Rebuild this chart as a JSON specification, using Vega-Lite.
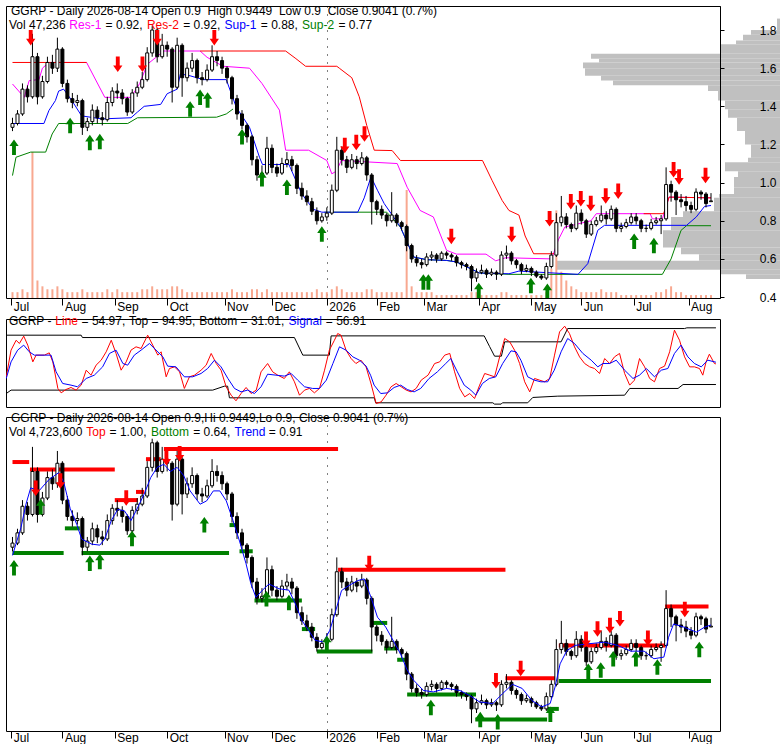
{
"$schema":"https://vega.github.io/schema/vega-lite/v6.json",
"padding":{"left":5,"top":5,"right":0,"bottom":0},
"background":"white",
"config":{
 "view":{"stroke":"black","strokeWidth":1},
 "axis":{"labelFont":"Liberation Sans","labelFontSize":12,"labelColor":"black","tickColor":"black","domainColor":"black","gridColor":"black","gridDash":[1,7],"gridWidth":1,"gridOpacity":1,"labelFlush":false,"labelOverlap":false},
 "legend":{"direction":"horizontal","orient":"none","labelFont":"Liberation Sans","labelFontSize":12,"labelColor":"black","symbolSize":0,"symbolStrokeWidth":0,"symbolOpacity":0,"labelOffset":-14,"columnPadding":3.3,"padding":0,"labelLimit":0,"titleFont":"Liberation Sans","titleFontSize":12,"titleFontWeight":"normal","titleColor":"black","titleOrient":"top","titleAnchor":"start","titlePadding":1,"titleLimit":1000,"titleBaseline":"top"}
},
"datasets":{
"px":[
{"i":2,"o":1.29,"h":1.34,"l":1.27,"c":1.31,"v":2},{"i":4,"o":1.31,"h":1.38,"l":1.30,"c":1.36,"v":2},{"i":6,"o":1.36,"h":1.52,"l":1.35,"c":1.49,"v":3},{"i":8,"o":1.49,"h":1.51,"l":1.42,"c":1.45,"v":2},{"i":10,"o":1.45,"h":1.78,"l":1.44,"c":1.66,"v":50},
{"i":12,"o":1.66,"h":1.68,"l":1.41,"c":1.45,"v":6},{"i":14,"o":1.45,"h":1.56,"l":1.44,"c":1.53,"v":4},{"i":16,"o":1.53,"h":1.66,"l":1.52,"c":1.63,"v":3},{"i":18,"o":1.63,"h":1.67,"l":1.57,"c":1.60,"v":3},{"i":20,"o":1.60,"h":1.76,"l":1.58,"c":1.70,"v":4},
{"i":22,"o":1.70,"h":1.71,"l":1.50,"c":1.52,"v":3},{"i":24,"o":1.52,"h":1.54,"l":1.42,"c":1.44,"v":2},{"i":26,"o":1.44,"h":1.47,"l":1.39,"c":1.42,"v":2},{"i":28,"o":1.42,"h":1.46,"l":1.40,"c":1.43,"v":2},{"i":30,"o":1.43,"h":1.44,"l":1.25,"c":1.29,"v":3},
{"i":32,"o":1.29,"h":1.34,"l":1.27,"c":1.32,"v":2},{"i":34,"o":1.32,"h":1.41,"l":1.30,"c":1.38,"v":2},{"i":36,"o":1.38,"h":1.40,"l":1.31,"c":1.34,"v":2},{"i":38,"o":1.34,"h":1.37,"l":1.30,"c":1.33,"v":2},{"i":40,"o":1.33,"h":1.45,"l":1.32,"c":1.42,"v":3},
{"i":42,"o":1.42,"h":1.50,"l":1.40,"c":1.48,"v":2},{"i":44,"o":1.48,"h":1.52,"l":1.44,"c":1.47,"v":3},{"i":46,"o":1.47,"h":1.49,"l":1.41,"c":1.44,"v":2},{"i":48,"o":1.44,"h":1.45,"l":1.35,"c":1.37,"v":2},{"i":50,"o":1.37,"h":1.49,"l":1.36,"c":1.47,"v":2},
{"i":52,"o":1.47,"h":1.53,"l":1.45,"c":1.50,"v":2},{"i":54,"o":1.50,"h":1.58,"l":1.49,"c":1.54,"v":3},{"i":56,"o":1.54,"h":1.71,"l":1.53,"c":1.68,"v":3},{"i":58,"o":1.68,"h":1.82,"l":1.66,"c":1.80,"v":4},{"i":60,"o":1.80,"h":1.81,"l":1.63,"c":1.66,"v":3},
{"i":62,"o":1.66,"h":1.78,"l":1.65,"c":1.72,"v":3},{"i":64,"o":1.72,"h":1.74,"l":1.66,"c":1.70,"v":3},{"i":66,"o":1.70,"h":1.71,"l":1.42,"c":1.50,"v":4},{"i":68,"o":1.50,"h":1.76,"l":1.49,"c":1.72,"v":4},{"i":70,"o":1.72,"h":1.73,"l":1.45,"c":1.55,"v":3},
{"i":72,"o":1.55,"h":1.63,"l":1.53,"c":1.60,"v":2},{"i":74,"o":1.60,"h":1.68,"l":1.58,"c":1.64,"v":2},{"i":76,"o":1.64,"h":1.65,"l":1.52,"c":1.55,"v":2},{"i":78,"o":1.55,"h":1.58,"l":1.51,"c":1.54,"v":2},{"i":80,"o":1.54,"h":1.62,"l":1.53,"c":1.59,"v":2},
{"i":82,"o":1.59,"h":1.72,"l":1.58,"c":1.66,"v":2},{"i":84,"o":1.66,"h":1.69,"l":1.61,"c":1.64,"v":2},{"i":86,"o":1.64,"h":1.66,"l":1.57,"c":1.60,"v":2},{"i":88,"o":1.60,"h":1.61,"l":1.52,"c":1.55,"v":2},{"i":90,"o":1.55,"h":1.56,"l":1.41,"c":1.44,"v":3},
{"i":92,"o":1.44,"h":1.46,"l":1.33,"c":1.36,"v":2},{"i":94,"o":1.36,"h":1.38,"l":1.28,"c":1.30,"v":2},{"i":96,"o":1.30,"h":1.31,"l":1.21,"c":1.24,"v":2},{"i":98,"o":1.24,"h":1.25,"l":1.09,"c":1.12,"v":3},{"i":100,"o":1.12,"h":1.14,"l":1.01,"c":1.04,"v":3},
{"i":102,"o":1.04,"h":1.09,"l":1.02,"c":1.05,"v":2},{"i":104,"o":1.05,"h":1.24,"l":1.04,"c":1.18,"v":3},{"i":106,"o":1.18,"h":1.20,"l":1.05,"c":1.08,"v":2},{"i":108,"o":1.08,"h":1.10,"l":1.03,"c":1.05,"v":2},{"i":110,"o":1.05,"h":1.13,"l":1.04,"c":1.10,"v":2},
{"i":112,"o":1.10,"h":1.16,"l":1.08,"c":1.12,"v":2},{"i":114,"o":1.12,"h":1.14,"l":1.06,"c":1.09,"v":2},{"i":116,"o":1.09,"h":1.10,"l":0.94,"c":0.97,"v":2},{"i":118,"o":0.97,"h":1.00,"l":0.91,"c":0.93,"v":2},{"i":120,"o":0.93,"h":0.96,"l":0.88,"c":0.90,"v":2},
{"i":122,"o":0.90,"h":0.92,"l":0.83,"c":0.85,"v":2},{"i":124,"o":0.85,"h":0.87,"l":0.78,"c":0.80,"v":3},{"i":126,"o":0.80,"h":0.84,"l":0.79,"c":0.82,"v":2},{"i":128,"o":0.82,"h":0.87,"l":0.80,"c":0.84,"v":2},{"i":130,"o":0.84,"h":0.99,"l":0.83,"c":0.96,"v":3},
{"i":132,"o":0.96,"h":1.24,"l":0.95,"c":1.17,"v":4},{"i":134,"o":1.17,"h":1.19,"l":1.09,"c":1.12,"v":3},{"i":136,"o":1.12,"h":1.14,"l":1.05,"c":1.08,"v":2},{"i":138,"o":1.08,"h":1.15,"l":1.07,"c":1.12,"v":2},{"i":140,"o":1.12,"h":1.14,"l":1.07,"c":1.10,"v":2},
{"i":142,"o":1.10,"h":1.16,"l":1.09,"c":1.13,"v":2},{"i":144,"o":1.13,"h":1.14,"l":1.01,"c":1.04,"v":3},{"i":146,"o":1.04,"h":1.05,"l":0.78,"c":0.90,"v":3},{"i":148,"o":0.90,"h":0.91,"l":0.83,"c":0.86,"v":2},{"i":150,"o":0.86,"h":0.88,"l":0.81,"c":0.83,"v":2},
{"i":152,"o":0.83,"h":0.84,"l":0.77,"c":0.80,"v":2},{"i":154,"o":0.80,"h":0.95,"l":0.79,"c":0.83,"v":2},{"i":156,"o":0.83,"h":0.84,"l":0.77,"c":0.79,"v":2},{"i":158,"o":0.79,"h":0.80,"l":0.75,"c":0.77,"v":2},{"i":160,"o":0.77,"h":0.78,"l":0.64,"c":0.67,"v":37},
{"i":162,"o":0.67,"h":0.68,"l":0.58,"c":0.60,"v":4},{"i":164,"o":0.60,"h":0.62,"l":0.56,"c":0.58,"v":2},{"i":166,"o":0.58,"h":0.60,"l":0.55,"c":0.57,"v":2},{"i":168,"o":0.57,"h":0.63,"l":0.56,"c":0.61,"v":2},{"i":170,"o":0.61,"h":0.64,"l":0.59,"c":0.62,"v":2},
{"i":172,"o":0.62,"h":0.63,"l":0.58,"c":0.60,"v":1},{"i":174,"o":0.60,"h":0.64,"l":0.59,"c":0.63,"v":1},{"i":176,"o":0.63,"h":0.64,"l":0.60,"c":0.62,"v":1},{"i":178,"o":0.62,"h":0.63,"l":0.59,"c":0.61,"v":1},{"i":180,"o":0.61,"h":0.62,"l":0.56,"c":0.58,"v":1},
{"i":182,"o":0.58,"h":0.59,"l":0.55,"c":0.57,"v":1},{"i":184,"o":0.57,"h":0.58,"l":0.54,"c":0.56,"v":1},{"i":186,"o":0.56,"h":0.57,"l":0.43,"c":0.50,"v":2},{"i":188,"o":0.50,"h":0.55,"l":0.48,"c":0.53,"v":2},{"i":190,"o":0.53,"h":0.57,"l":0.52,"c":0.54,"v":1},
{"i":192,"o":0.54,"h":0.55,"l":0.50,"c":0.52,"v":1},{"i":194,"o":0.52,"h":0.55,"l":0.51,"c":0.53,"v":1},{"i":196,"o":0.53,"h":0.54,"l":0.49,"c":0.52,"v":1},{"i":198,"o":0.52,"h":0.64,"l":0.51,"c":0.62,"v":2},{"i":200,"o":0.62,"h":0.67,"l":0.60,"c":0.63,"v":2},
{"i":202,"o":0.63,"h":0.64,"l":0.57,"c":0.59,"v":1},{"i":204,"o":0.59,"h":0.60,"l":0.55,"c":0.57,"v":1},{"i":206,"o":0.57,"h":0.58,"l":0.52,"c":0.54,"v":1},{"i":208,"o":0.54,"h":0.57,"l":0.53,"c":0.55,"v":1},{"i":210,"o":0.55,"h":0.56,"l":0.51,"c":0.53,"v":1},
{"i":212,"o":0.53,"h":0.54,"l":0.50,"c":0.51,"v":1},{"i":214,"o":0.51,"h":0.52,"l":0.49,"c":0.50,"v":1},{"i":216,"o":0.50,"h":0.58,"l":0.49,"c":0.56,"v":2},{"i":218,"o":0.56,"h":0.64,"l":0.55,"c":0.62,"v":10},{"i":220,"o":0.62,"h":0.84,"l":0.61,"c":0.79,"v":30},
{"i":222,"o":0.79,"h":0.93,"l":0.77,"c":0.82,"v":9},{"i":224,"o":0.82,"h":0.84,"l":0.76,"c":0.78,"v":6},{"i":226,"o":0.78,"h":0.79,"l":0.74,"c":0.76,"v":4},{"i":228,"o":0.76,"h":0.88,"l":0.75,"c":0.84,"v":3},{"i":230,"o":0.84,"h":0.86,"l":0.78,"c":0.80,"v":2},
{"i":232,"o":0.80,"h":0.81,"l":0.71,"c":0.73,"v":2},{"i":234,"o":0.73,"h":0.80,"l":0.72,"c":0.78,"v":2},{"i":236,"o":0.78,"h":0.82,"l":0.77,"c":0.80,"v":2},{"i":238,"o":0.80,"h":0.88,"l":0.79,"c":0.83,"v":3},{"i":240,"o":0.83,"h":0.85,"l":0.78,"c":0.81,"v":2},
{"i":242,"o":0.81,"h":0.88,"l":0.80,"c":0.86,"v":2},{"i":244,"o":0.86,"h":0.87,"l":0.74,"c":0.76,"v":2},{"i":246,"o":0.76,"h":0.79,"l":0.74,"c":0.77,"v":1},{"i":248,"o":0.77,"h":0.81,"l":0.76,"c":0.79,"v":1},{"i":250,"o":0.79,"h":0.84,"l":0.78,"c":0.82,"v":1},
{"i":252,"o":0.82,"h":0.84,"l":0.78,"c":0.80,"v":1},{"i":254,"o":0.80,"h":0.81,"l":0.74,"c":0.76,"v":1},{"i":256,"o":0.76,"h":0.78,"l":0.74,"c":0.76,"v":1},{"i":258,"o":0.76,"h":0.81,"l":0.75,"c":0.79,"v":1},{"i":260,"o":0.79,"h":0.82,"l":0.78,"c":0.80,"v":2},
{"i":262,"o":0.80,"h":0.83,"l":0.73,"c":0.81,"v":2},{"i":264,"o":0.81,"h":1.08,"l":0.80,"c":0.99,"v":3},{"i":266,"o":0.99,"h":1.01,"l":0.90,"c":0.95,"v":4},{"i":268,"o":0.95,"h":0.96,"l":0.83,"c":0.91,"v":2},{"i":270,"o":0.91,"h":0.94,"l":0.87,"c":0.90,"v":2},
{"i":272,"o":0.90,"h":0.93,"l":0.85,"c":0.88,"v":1},{"i":274,"o":0.88,"h":0.90,"l":0.84,"c":0.86,"v":1},{"i":276,"o":0.86,"h":0.97,"l":0.85,"c":0.95,"v":1},{"i":278,"o":0.95,"h":0.96,"l":0.91,"c":0.94,"v":1},{"i":280,"o":0.94,"h":0.95,"l":0.87,"c":0.89,"v":1},
{"i":282,"o":0.90,"h":0.9449,"l":0.90,"c":0.9041,"v":1}
],
"prof":[
{"lo":1.80,"hi":1.86,"w":4},{"lo":1.775,"hi":1.80,"w":30},{"lo":1.745,"hi":1.775,"w":38},{"lo":1.725,"hi":1.745,"w":45},{"lo":1.675,"hi":1.725,"w":60},
{"lo":1.65,"hi":1.675,"w":190},{"lo":1.63,"hi":1.65,"w":182},{"lo":1.60,"hi":1.63,"w":198},{"lo":1.56,"hi":1.60,"w":196},{"lo":1.535,"hi":1.56,"w":180},
{"lo":1.51,"hi":1.535,"w":168},{"lo":1.48,"hi":1.51,"w":73},{"lo":1.43,"hi":1.48,"w":63},{"lo":1.385,"hi":1.43,"w":56},{"lo":1.34,"hi":1.385,"w":53},
{"lo":1.27,"hi":1.34,"w":44},{"lo":1.20,"hi":1.27,"w":36},{"lo":1.13,"hi":1.20,"w":30},{"lo":1.107,"hi":1.13,"w":33},{"lo":1.06,"hi":1.107,"w":56},
{"lo":1.03,"hi":1.06,"w":43},{"lo":0.975,"hi":1.03,"w":47},{"lo":0.94,"hi":0.975,"w":47},{"lo":0.92,"hi":0.94,"w":62},{"lo":0.85,"hi":0.92,"w":67},
{"lo":0.82,"hi":0.85,"w":98},{"lo":0.75,"hi":0.82,"w":110},{"lo":0.66,"hi":0.75,"w":118},{"lo":0.625,"hi":0.66,"w":100},{"lo":0.59,"hi":0.625,"w":82},
{"lo":0.543,"hi":0.59,"w":225},{"lo":0.52,"hi":0.543,"w":60},{"lo":0.495,"hi":0.52,"w":35}
],
"lines":[
{"s":"Res-1","g":"a","i":2,"p":1.517},{"s":"Res-1","g":"a","i":6.7,"p":1.447},{"s":"Res-1","g":"a","i":8.7,"p":1.535},{"s":"Res-1","g":"a","i":12.6,"p":1.54},{"s":"Res-1","g":"a","i":14,"p":1.6},{"s":"Res-1","g":"a","i":16.6,"p":1.63},{"s":"Res-1","g":"a","i":31.7,"p":1.63},{"s":"Res-1","g":"a","i":39,"p":1.447},{"s":"Res-1","g":"a","i":49.5,"p":1.447},{"s":"Res-1","g":"a","i":53,"p":1.52},{"s":"Res-1","g":"a","i":56,"p":1.62},{"s":"Res-1","g":"a","i":62.7,"p":1.69},{"s":"Res-1","g":"a","i":77.2,"p":1.69},{"s":"Res-1","g":"a","i":80,"p":1.657},{"s":"Res-1","g":"a","i":86.4,"p":1.61},{"s":"Res-1","g":"a","i":97,"p":1.6},{"s":"Res-1","g":"a","i":102,"p":1.52},{"s":"Res-1","g":"a","i":109,"p":1.38},{"s":"Res-1","g":"a","i":111.5,"p":1.17},{"s":"Res-1","g":"a","i":120.7,"p":1.17},{"s":"Res-1","g":"a","i":128,"p":1.116},{"s":"Res-1","g":"a","i":130,"p":1.046},{"s":"Res-1","g":"a","i":131.8,"p":1.06},{"s":"Res-1","g":"a","i":133.8,"p":1.116},{"s":"Res-1","g":"a","i":156.2,"p":1.1},{"s":"Res-1","g":"a","i":160.2,"p":0.976},{"s":"Res-1","g":"a","i":165.4,"p":0.854},{"s":"Res-1","g":"a","i":170.7,"p":0.82},{"s":"Res-1","g":"a","i":176,"p":0.645},{"s":"Res-1","g":"a","i":180,"p":0.625},{"s":"Res-1","g":"a","i":191.8,"p":0.625},{"s":"Res-1","g":"a","i":195.7,"p":0.59},{"s":"Res-1","g":"a","i":199.7,"p":0.606},{"s":"Res-1","g":"a","i":218.1,"p":0.6},{"s":"Res-1","g":"a","i":220.8,"p":0.7},{"s":"Res-1","g":"a","i":223.4,"p":0.767},{"s":"Res-1","g":"a","i":233.9,"p":0.8},{"s":"Res-1","g":"a","i":236,"p":0.837},{"s":"Res-1","g":"a","i":257.6,"p":0.837},{"s":"Res-1","g":"a","i":258.5,"p":0.81},{"s":"Res-1","g":"a","i":262.5,"p":0.81},{"s":"Res-1","g":"a","i":265.2,"p":0.924},{"s":"Res-1","g":"a","i":282,"p":0.92},
{"s":"Res-2","g":"a","i":2,"p":1.63},{"s":"Res-2","g":"a","i":31.7,"p":1.63},
{"s":"Res-2","g":"b","i":77.2,"p":1.69},{"s":"Res-2","g":"b","i":111.5,"p":1.69},{"s":"Res-2","g":"b","i":115.6,"p":1.65},{"s":"Res-2","g":"b","i":119.5,"p":1.61},{"s":"Res-2","g":"b","i":132,"p":1.61},{"s":"Res-2","g":"b","i":133,"p":1.6},{"s":"Res-2","g":"b","i":138,"p":1.55},{"s":"Res-2","g":"b","i":141,"p":1.45},{"s":"Res-2","g":"b","i":144,"p":1.3},{"s":"Res-2","g":"b","i":147,"p":1.17},{"s":"Res-2","g":"b","i":154.2,"p":1.168},{"s":"Res-2","g":"b","i":157.5,"p":1.116},{"s":"Res-2","g":"b","i":190.4,"p":1.116},{"s":"Res-2","g":"b","i":194.3,"p":1.01},{"s":"Res-2","g":"b","i":198.3,"p":0.906},{"s":"Res-2","g":"b","i":201,"p":0.854},{"s":"Res-2","g":"b","i":205,"p":0.83},{"s":"Res-2","g":"b","i":207.5,"p":0.72},{"s":"Res-2","g":"b","i":210.9,"p":0.627},{"s":"Res-2","g":"b","i":219,"p":0.627},
{"s":"Res-2","g":"c","i":255,"p":0.837},{"s":"Res-2","g":"c","i":263,"p":0.837},{"s":"Res-2","g":"c","i":265.2,"p":0.924},{"s":"Res-2","g":"c","i":282,"p":0.92},
{"s":"Sup-1","g":"a","i":2,"p":1.31},{"s":"Sup-1","g":"a","i":14.6,"p":1.31},{"s":"Sup-1","g":"a","i":16.6,"p":1.378},{"s":"Sup-1","g":"a","i":19.2,"p":1.43},{"s":"Sup-1","g":"a","i":20.5,"p":1.48},{"s":"Sup-1","g":"a","i":22.5,"p":1.49},{"s":"Sup-1","g":"a","i":25.8,"p":1.43},{"s":"Sup-1","g":"a","i":29.7,"p":1.35},{"s":"Sup-1","g":"a","i":37.7,"p":1.334},{"s":"Sup-1","g":"a","i":49.5,"p":1.34},{"s":"Sup-1","g":"a","i":52.1,"p":1.37},{"s":"Sup-1","g":"a","i":54.8,"p":1.4},{"s":"Sup-1","g":"a","i":61.4,"p":1.41},{"s":"Sup-1","g":"a","i":64,"p":1.466},{"s":"Sup-1","g":"a","i":68,"p":1.49},{"s":"Sup-1","g":"a","i":69.3,"p":1.57},{"s":"Sup-1","g":"a","i":73.2,"p":1.56},{"s":"Sup-1","g":"a","i":78.5,"p":1.54},{"s":"Sup-1","g":"a","i":87.7,"p":1.54},{"s":"Sup-1","g":"a","i":91.7,"p":1.395},{"s":"Sup-1","g":"a","i":97,"p":1.29},{"s":"Sup-1","g":"a","i":101,"p":1.133},{"s":"Sup-1","g":"a","i":102.2,"p":1.095},{"s":"Sup-1","g":"a","i":112.8,"p":1.095},{"s":"Sup-1","g":"a","i":118,"p":0.94},{"s":"Sup-1","g":"a","i":122.6,"p":0.86},{"s":"Sup-1","g":"a","i":126,"p":0.845},{"s":"Sup-1","g":"a","i":140.4,"p":0.845},{"s":"Sup-1","g":"a","i":143,"p":0.92},{"s":"Sup-1","g":"a","i":145.7,"p":1.03},{"s":"Sup-1","g":"a","i":148.3,"p":0.96},{"s":"Sup-1","g":"a","i":151,"p":0.89},{"s":"Sup-1","g":"a","i":157.5,"p":0.767},{"s":"Sup-1","g":"a","i":162.8,"p":0.61},{"s":"Sup-1","g":"a","i":168,"p":0.596},{"s":"Sup-1","g":"a","i":176,"p":0.592},{"s":"Sup-1","g":"a","i":180,"p":0.584},{"s":"Sup-1","g":"a","i":189.2,"p":0.526},{"s":"Sup-1","g":"a","i":201,"p":0.522},{"s":"Sup-1","g":"a","i":205,"p":0.536},{"s":"Sup-1","g":"a","i":228.7,"p":0.519},{"s":"Sup-1","g":"a","i":232.6,"p":0.575},{"s":"Sup-1","g":"a","i":236.6,"p":0.75},{"s":"Sup-1","g":"a","i":239.3,"p":0.776},{"s":"Sup-1","g":"a","i":272.2,"p":0.776},{"s":"Sup-1","g":"a","i":276.1,"p":0.82},{"s":"Sup-1","g":"a","i":279.4,"p":0.875},{"s":"Sup-1","g":"a","i":282,"p":0.88},
{"s":"Sup-2","g":"a","i":2,"p":1.037},{"s":"Sup-2","g":"a","i":3.4,"p":1.133},{"s":"Sup-2","g":"a","i":9.3,"p":1.16},{"s":"Sup-2","g":"a","i":15.3,"p":1.16},{"s":"Sup-2","g":"a","i":17.9,"p":1.255},{"s":"Sup-2","g":"a","i":20.5,"p":1.31},{"s":"Sup-2","g":"a","i":48.2,"p":1.31},{"s":"Sup-2","g":"a","i":52.1,"p":1.34},{"s":"Sup-2","g":"a","i":83.8,"p":1.343},{"s":"Sup-2","g":"a","i":87.7,"p":1.36},{"s":"Sup-2","g":"a","i":90.4,"p":1.386},
{"s":"Sup-2","g":"b","i":127,"p":0.845},{"s":"Sup-2","g":"b","i":152,"p":0.845},{"s":"Sup-2","g":"b","i":157.5,"p":0.767},{"s":"Sup-2","g":"b","i":162.8,"p":0.61},{"s":"Sup-2","g":"b","i":168,"p":0.596},{"s":"Sup-2","g":"b","i":176,"p":0.592},{"s":"Sup-2","g":"b","i":180,"p":0.584},{"s":"Sup-2","g":"b","i":189.2,"p":0.526},{"s":"Sup-2","g":"b","i":201,"p":0.519},{"s":"Sup-2","g":"b","i":262.5,"p":0.519},{"s":"Sup-2","g":"b","i":266,"p":0.6},{"s":"Sup-2","g":"b","i":270,"p":0.75},{"s":"Sup-2","g":"b","i":272.2,"p":0.774},{"s":"Sup-2","g":"b","i":282,"p":0.774}
],
"arT":[
{"t":"dn","i":9.3,"p":1.76},{"t":"dn","i":44.2,"p":1.62},{"t":"dn","i":54.1,"p":1.62},{"t":"dn","i":60,"p":1.76},{"t":"dn","i":82.9,"p":1.76},{"t":"dn","i":135.2,"p":1.195},{"t":"dn","i":139.8,"p":1.21},{"t":"dn","i":143.1,"p":1.255},{"t":"dn","i":177.9,"p":0.718},{"t":"dn","i":202.1,"p":0.728},{"t":"dn","i":217.3,"p":0.81},{"t":"dn","i":225.8,"p":0.9},{"t":"dn","i":229.8,"p":0.915},{"t":"dn","i":233.8,"p":0.89},{"t":"dn","i":239.8,"p":0.93},{"t":"dn","i":244.8,"p":0.955},{"t":"dn","i":267,"p":1.067},{"t":"dn","i":269.2,"p":1.03},{"t":"dn","i":279.8,"p":1.037},
{"t":"up","i":2.6,"p":1.186},{"t":"up","i":25.1,"p":1.3},{"t":"up","i":33,"p":1.21},{"t":"up","i":37,"p":1.215},{"t":"up","i":73.2,"p":1.386},{"t":"up","i":77.2,"p":1.447},{"t":"up","i":80.2,"p":1.433},{"t":"up","i":94,"p":1.24},{"t":"up","i":102,"p":1.02},{"t":"up","i":112,"p":0.976},{"t":"up","i":126,"p":0.73},{"t":"up","i":166.7,"p":0.479},{"t":"up","i":168.7,"p":0.479},{"t":"up","i":188.9,"p":0.435},{"t":"up","i":209.8,"p":0.46},{"t":"up","i":216.4,"p":0.43},{"t":"up","i":251.2,"p":0.693},{"t":"up","i":259.1,"p":0.67}
],
"arB":[
{"t":"dn","i":11.3,"p":1.578},{"t":"dn","i":21.2,"p":1.613},{"t":"dn","i":47.6,"p":1.53},{"t":"dn","i":63.7,"p":1.727},{"t":"dn","i":69,"p":1.746},{"t":"dn","i":145,"p":1.21},{"t":"dn","i":195.8,"p":0.637},{"t":"dn","i":205.7,"p":0.697},{"t":"dn","i":231.9,"p":0.84},{"t":"dn","i":236.5,"p":0.89},{"t":"dn","i":241.5,"p":0.907},{"t":"dn","i":245.5,"p":0.94},{"t":"dn","i":256.7,"p":0.845},{"t":"dn","i":271.5,"p":0.985},
{"t":"up","i":2.6,"p":1.19},{"t":"up","i":13.3,"p":1.487},{"t":"up","i":33,"p":1.211},{"t":"up","i":37,"p":1.22},{"t":"up","i":49.9,"p":1.333},{"t":"up","i":78.9,"p":1.4},{"t":"up","i":103.8,"p":1.038},{"t":"up","i":112.8,"p":1.02},{"t":"up","i":128,"p":0.82},{"t":"up","i":169.7,"p":0.507},{"t":"up","i":189.5,"p":0.448},{"t":"up","i":196.5,"p":0.437},{"t":"up","i":217.6,"p":0.474},{"t":"up","i":232.8,"p":0.684},{"t":"up","i":237.8,"p":0.69},{"t":"up","i":242.8,"p":0.745},{"t":"up","i":251.9,"p":0.745},{"t":"up","i":260.5,"p":0.705},{"t":"up","i":277.3,"p":0.79}
],
"seg":[
{"k":"Top","i":2,"i2":8.7,"p":1.706},{"k":"Top","i":9,"i2":43,"p":1.67},{"k":"Top","i":43,"i2":52.2,"p":1.52},{"k":"Top","i":51.5,"i2":54.8,"p":1.56},{"k":"Top","i":55.5,"i2":61.4,"p":1.72},{"k":"Top","i":62.7,"i2":132.5,"p":1.77},{"k":"Top","i":132.5,"i2":199.6,"p":1.18},{"k":"Top","i":199.6,"i2":219.7,"p":0.65},{"k":"Top","i":221,"i2":263.6,"p":0.81},{"k":"Top","i":263.6,"i2":281,"p":1.0},
{"k":"Bottom","i":2,"i2":22.5,"p":1.262},{"k":"Bottom","i":23,"i2":29,"p":1.382},{"k":"Bottom","i":29.7,"i2":88.8,"p":1.262},{"k":"Bottom","i":89,"i2":92.3,"p":1.398},{"k":"Bottom","i":93,"i2":98.3,"p":1.27},{"k":"Bottom","i":99,"i2":118,"p":1.03},{"k":"Bottom","i":118,"i2":123.3,"p":0.89},{"k":"Bottom","i":124,"i2":146.3,"p":0.78},{"k":"Bottom","i":146.5,"i2":152.2,"p":0.92},{"k":"Bottom","i":151,"i2":156.2,"p":0.795},{"k":"Bottom","i":156.2,"i2":160,"p":0.74},{"k":"Bottom","i":160.2,"i2":187.8,"p":0.57},{"k":"Bottom","i":187.5,"i2":216.3,"p":0.448},{"k":"Bottom","i":216.3,"i2":221,"p":0.5},{"k":"Bottom","i":221,"i2":282,"p":0.636}
],
"trend":[
{"i":2,"p":1.25},{"i":5.4,"p":1.386},{"i":7.4,"p":1.5},{"i":9.3,"p":1.58},{"i":12.6,"p":1.565},{"i":16.6,"p":1.62},{"i":20.5,"p":1.654},{"i":22.5,"p":1.61},{"i":25.1,"p":1.48},{"i":27.8,"p":1.4},{"i":29.7,"p":1.33},{"i":33.7,"p":1.305},{"i":37,"p":1.3},{"i":39,"p":1.33},{"i":41.6,"p":1.42},{"i":44.2,"p":1.475},{"i":46.9,"p":1.467},{"i":49.5,"p":1.42},{"i":51.5,"p":1.467},{"i":54.8,"p":1.55},{"i":57.4,"p":1.63},{"i":60,"p":1.68},{"i":62.7,"p":1.695},{"i":65.3,"p":1.66},{"i":68,"p":1.68},{"i":70.6,"p":1.64},{"i":73.2,"p":1.565},{"i":77.2,"p":1.5},{"i":79.8,"p":1.516},{"i":82.5,"p":1.565},{"i":85.1,"p":1.565},{"i":87.7,"p":1.516},{"i":90.4,"p":1.42},{"i":93,"p":1.32},{"i":95.6,"p":1.21},{"i":97.6,"p":1.11},{"i":99.6,"p":1.045},{"i":102.2,"p":1.08},{"i":104.8,"p":1.11},{"i":108.8,"p":1.087},{"i":112.8,"p":1.08},{"i":115.4,"p":1.013},{"i":118,"p":0.932},{"i":120.7,"p":0.884},{"i":123.3,"p":0.835},{"i":126.6,"p":0.827},{"i":129.2,"p":0.884},{"i":131.2,"p":0.964},{"i":133.9,"p":1.078},{"i":136.5,"p":1.1},{"i":140.4,"p":1.127},{"i":143,"p":1.135},{"i":145.7,"p":1.045},{"i":148.3,"p":0.948},{"i":151.6,"p":0.9},{"i":157.5,"p":0.77},{"i":160.2,"p":0.69},{"i":162.8,"p":0.64},{"i":166.7,"p":0.59},{"i":170.7,"p":0.583},{"i":176,"p":0.6},{"i":181.3,"p":0.59},{"i":185.2,"p":0.566},{"i":189.2,"p":0.534},{"i":194.5,"p":0.526},{"i":198.4,"p":0.574},{"i":202.4,"p":0.62},{"i":206.3,"p":0.6},{"i":210.3,"p":0.54},{"i":214.2,"p":0.51},{"i":217.5,"p":0.526},{"i":219.5,"p":0.607},{"i":221.5,"p":0.72},{"i":224.2,"p":0.785},{"i":227.5,"p":0.81},{"i":232.8,"p":0.818},{"i":239.3,"p":0.826},{"i":244.6,"p":0.81},{"i":249.9,"p":0.782},{"i":255.2,"p":0.782},{"i":259.1,"p":0.745},{"i":263.1,"p":0.753},{"i":265,"p":0.85},{"i":267,"p":0.915},{"i":271,"p":0.9},{"i":276.2,"p":0.875},{"i":279.5,"p":0.9},{"i":282,"p":0.91}
],
"osc":[
{"s":"Line","i":1.5,"v":40.2},{"s":"Line","i":3.4,"v":70.7},{"s":"Line","i":5.4,"v":82},{"s":"Line","i":6.7,"v":78.3},{"s":"Line","i":8.4,"v":86.7},{"s":"Line","i":10,"v":76.4},{"s":"Line","i":12,"v":57.3},{"s":"Line","i":13.3,"v":65},{"s":"Line","i":16.6,"v":65},{"s":"Line","i":18.5,"v":67.6},{"s":"Line","i":19.9,"v":57.3},{"s":"Line","i":21.9,"v":26.9},{"s":"Line","i":23.2,"v":21.9},{"s":"Line","i":25.1,"v":25.7},{"s":"Line","i":27.1,"v":28},{"s":"Line","i":29.1,"v":25},{"s":"Line","i":31.1,"v":30.7},{"s":"Line","i":33.1,"v":47.8},{"s":"Line","i":35,"v":42.1},{"s":"Line","i":37,"v":53.5},{"s":"Line","i":39,"v":59.2},{"s":"Line","i":41,"v":68.8},{"s":"Line","i":43,"v":82},{"s":"Line","i":44.9,"v":66.9},{"s":"Line","i":46.9,"v":47.8},{"s":"Line","i":48.9,"v":57.3},{"s":"Line","i":50.8,"v":70.7},{"s":"Line","i":52.8,"v":74.5},{"s":"Line","i":54.8,"v":72.6},{"s":"Line","i":57.4,"v":87.8},{"s":"Line","i":59.4,"v":76.4},{"s":"Line","i":61.4,"v":65},{"s":"Line","i":62.7,"v":68.8},{"s":"Line","i":64.7,"v":40.2},{"s":"Line","i":66,"v":49.7},{"s":"Line","i":68,"v":51.6},{"s":"Line","i":70,"v":45.9},{"s":"Line","i":71.9,"v":26.9},{"s":"Line","i":73.9,"v":40.2},{"s":"Line","i":75.9,"v":42.1},{"s":"Line","i":78.5,"v":47.8},{"s":"Line","i":80.5,"v":53.5},{"s":"Line","i":82.5,"v":66.9},{"s":"Line","i":84.5,"v":55.4},{"s":"Line","i":86.4,"v":47.8},{"s":"Line","i":88.4,"v":28.8},{"s":"Line","i":90.4,"v":19.2},{"s":"Line","i":92.3,"v":12.8},{"s":"Line","i":94.3,"v":21.1},{"s":"Line","i":96.3,"v":28},{"s":"Line","i":98.3,"v":21.1},{"s":"Line","i":100.3,"v":25},{"s":"Line","i":102.2,"v":45.9},{"s":"Line","i":104.8,"v":55.4},{"s":"Line","i":106.8,"v":45.9},{"s":"Line","i":108.8,"v":42.1},{"s":"Line","i":111.4,"v":38.3},{"s":"Line","i":113.4,"v":45.9},{"s":"Line","i":115.4,"v":34.5},{"s":"Line","i":117.4,"v":19.2},{"s":"Line","i":119.4,"v":25},{"s":"Line","i":121.3,"v":26.9},{"s":"Line","i":123.3,"v":21.9},{"s":"Line","i":125.3,"v":26.9},{"s":"Line","i":127.3,"v":47.8},{"s":"Line","i":129.2,"v":70.7},{"s":"Line","i":131.2,"v":82},{"s":"Line","i":132.5,"v":89.7},{"s":"Line","i":133.8,"v":87.8},{"s":"Line","i":135.8,"v":70.7},{"s":"Line","i":137.8,"v":61.1},{"s":"Line","i":139.7,"v":55.4},{"s":"Line","i":141.7,"v":59.2},{"s":"Line","i":143.7,"v":51.6},{"s":"Line","i":145.7,"v":32},{"s":"Line","i":147.7,"v":9.7},{"s":"Line","i":149.7,"v":11.6},{"s":"Line","i":151.6,"v":19.2},{"s":"Line","i":153.6,"v":28.8},{"s":"Line","i":155.6,"v":32.6},{"s":"Line","i":157.6,"v":28.8},{"s":"Line","i":159.6,"v":25},{"s":"Line","i":161.5,"v":23},{"s":"Line","i":163.5,"v":26.9},{"s":"Line","i":165.5,"v":36.4},{"s":"Line","i":168.2,"v":42.1},{"s":"Line","i":170.8,"v":55.4},{"s":"Line","i":172.8,"v":57.3},{"s":"Line","i":174.8,"v":65},{"s":"Line","i":176.8,"v":66.9},{"s":"Line","i":178.7,"v":45.9},{"s":"Line","i":180.7,"v":26.9},{"s":"Line","i":182.7,"v":17.3},{"s":"Line","i":184.7,"v":21.1},{"s":"Line","i":186.6,"v":15.4},{"s":"Line","i":188.6,"v":30.7},{"s":"Line","i":190.6,"v":44},{"s":"Line","i":192.6,"v":42.1},{"s":"Line","i":194.5,"v":40.2},{"s":"Line","i":196.5,"v":63},{"s":"Line","i":198.5,"v":84},{"s":"Line","i":200.5,"v":80.2},{"s":"Line","i":202.4,"v":70.7},{"s":"Line","i":204.4,"v":55.4},{"s":"Line","i":206.4,"v":34.5},{"s":"Line","i":208.4,"v":23},{"s":"Line","i":210.3,"v":38.3},{"s":"Line","i":212.3,"v":36.4},{"s":"Line","i":214.3,"v":34.5},{"s":"Line","i":216.3,"v":38.3},{"s":"Line","i":218.2,"v":65},{"s":"Line","i":220.2,"v":91.6},{"s":"Line","i":222.2,"v":98.1},{"s":"Line","i":224.1,"v":89.7},{"s":"Line","i":226.1,"v":74.5},{"s":"Line","i":228.1,"v":63},{"s":"Line","i":230.1,"v":55.4},{"s":"Line","i":232.1,"v":51.6},{"s":"Line","i":234,"v":49.7},{"s":"Line","i":236,"v":44},{"s":"Line","i":238,"v":61.1},{"s":"Line","i":240,"v":55.4},{"s":"Line","i":241.9,"v":63},{"s":"Line","i":243.9,"v":66.9},{"s":"Line","i":245.9,"v":44},{"s":"Line","i":247.9,"v":30.7},{"s":"Line","i":249.8,"v":36.4},{"s":"Line","i":251.8,"v":61.1},{"s":"Line","i":253.8,"v":51.6},{"s":"Line","i":255.8,"v":38.3},{"s":"Line","i":257.7,"v":34.5},{"s":"Line","i":259.7,"v":49.7},{"s":"Line","i":261.7,"v":52.4},{"s":"Line","i":263.7,"v":68.8},{"s":"Line","i":265.6,"v":93.5},{"s":"Line","i":267.6,"v":82},{"s":"Line","i":269.6,"v":63},{"s":"Line","i":271.6,"v":51.6},{"s":"Line","i":273.5,"v":51.6},{"s":"Line","i":275.5,"v":49.7},{"s":"Line","i":276.8,"v":42.1},{"s":"Line","i":278.1,"v":57.3},{"s":"Line","i":279.4,"v":66.1},{"s":"Line","i":281.4,"v":55.4},{"s":"Line","i":282,"v":54.97},
{"s":"Signal","i":1.5,"v":38.3},{"s":"Signal","i":3.4,"v":57.3},{"s":"Signal","i":6,"v":70.7},{"s":"Signal","i":8.4,"v":76.4},{"s":"Signal","i":10.6,"v":68.8},{"s":"Signal","i":12.6,"v":65},{"s":"Signal","i":16.6,"v":65},{"s":"Signal","i":19.2,"v":65},{"s":"Signal","i":21.2,"v":45.9},{"s":"Signal","i":23.8,"v":32.6},{"s":"Signal","i":27.1,"v":30.7},{"s":"Signal","i":29.7,"v":28.8},{"s":"Signal","i":33.1,"v":38.3},{"s":"Signal","i":36.3,"v":42.1},{"s":"Signal","i":39.6,"v":51.6},{"s":"Signal","i":42.3,"v":66.9},{"s":"Signal","i":44.9,"v":70.7},{"s":"Signal","i":47.6,"v":55.4},{"s":"Signal","i":49.5,"v":53.5},{"s":"Signal","i":52.1,"v":65},{"s":"Signal","i":54.8,"v":70.7},{"s":"Signal","i":58.1,"v":78.3},{"s":"Signal","i":60.7,"v":70.7},{"s":"Signal","i":63.4,"v":63},{"s":"Signal","i":65.3,"v":52.4},{"s":"Signal","i":68.6,"v":51.6},{"s":"Signal","i":71.9,"v":40.2},{"s":"Signal","i":75.2,"v":40.2},{"s":"Signal","i":78.5,"v":44},{"s":"Signal","i":81.1,"v":49.7},{"s":"Signal","i":83.8,"v":59.2},{"s":"Signal","i":86.4,"v":51.6},{"s":"Signal","i":89.1,"v":38.3},{"s":"Signal","i":91.7,"v":26.9},{"s":"Signal","i":94.3,"v":23},{"s":"Signal","i":96.9,"v":25},{"s":"Signal","i":99.6,"v":21.1},{"s":"Signal","i":102.2,"v":28.8},{"s":"Signal","i":104.8,"v":43.2},{"s":"Signal","i":108.1,"v":42.1},{"s":"Signal","i":111.4,"v":41},{"s":"Signal","i":114.1,"v":44},{"s":"Signal","i":116.7,"v":36.4},{"s":"Signal","i":119.4,"v":28.8},{"s":"Signal","i":122.6,"v":26.9},{"s":"Signal","i":125.3,"v":26.9},{"s":"Signal","i":128,"v":36.4},{"s":"Signal","i":130.6,"v":55.4},{"s":"Signal","i":133.2,"v":74.5},{"s":"Signal","i":135.8,"v":70.7},{"s":"Signal","i":138.5,"v":63},{"s":"Signal","i":141.1,"v":59.2},{"s":"Signal","i":143.7,"v":52.5},{"s":"Signal","i":145.5,"v":42},{"s":"Signal","i":146.9,"v":30.7},{"s":"Signal","i":149.5,"v":21.1},{"s":"Signal","i":152.2,"v":21.9},{"s":"Signal","i":154.8,"v":28},{"s":"Signal","i":157.4,"v":30.7},{"s":"Signal","i":160,"v":25.7},{"s":"Signal","i":162.7,"v":23},{"s":"Signal","i":165.3,"v":26.9},{"s":"Signal","i":168.6,"v":38.3},{"s":"Signal","i":171.9,"v":45.9},{"s":"Signal","i":175.2,"v":55.4},{"s":"Signal","i":177.2,"v":61.1},{"s":"Signal","i":179.8,"v":45.9},{"s":"Signal","i":182.5,"v":30.7},{"s":"Signal","i":185.1,"v":25},{"s":"Signal","i":187.1,"v":19.2},{"s":"Signal","i":189.7,"v":32.6},{"s":"Signal","i":192.4,"v":38.3},{"s":"Signal","i":195,"v":40.2},{"s":"Signal","i":197.7,"v":55.4},{"s":"Signal","i":201,"v":69.9},{"s":"Signal","i":203,"v":68.8},{"s":"Signal","i":204.9,"v":59.2},{"s":"Signal","i":207.6,"v":40.2},{"s":"Signal","i":210.2,"v":36.4},{"s":"Signal","i":212.8,"v":34.5},{"s":"Signal","i":215.5,"v":34.5},{"s":"Signal","i":218.1,"v":47.8},{"s":"Signal","i":220.8,"v":68.8},{"s":"Signal","i":223.4,"v":84},{"s":"Signal","i":226.1,"v":78.3},{"s":"Signal","i":229.4,"v":66.9},{"s":"Signal","i":232.7,"v":59.2},{"s":"Signal","i":235.3,"v":51.6},{"s":"Signal","i":237.3,"v":55.4},{"s":"Signal","i":240,"v":55.4},{"s":"Signal","i":242.6,"v":59.2},{"s":"Signal","i":245.9,"v":47.8},{"s":"Signal","i":249.2,"v":38.3},{"s":"Signal","i":251.8,"v":42.1},{"s":"Signal","i":254.5,"v":49.7},{"s":"Signal","i":257.7,"v":40.2},{"s":"Signal","i":260.4,"v":47.8},{"s":"Signal","i":263,"v":49.7},{"s":"Signal","i":265.6,"v":66.9},{"s":"Signal","i":268.2,"v":76.4},{"s":"Signal","i":270.9,"v":63},{"s":"Signal","i":273.5,"v":55.4},{"s":"Signal","i":276.2,"v":51.6},{"s":"Signal","i":278.8,"v":59.2},{"s":"Signal","i":282,"v":56.91}
],
"band":[
{"s":"Top","i":1.5,"v":87.8},{"s":"Top","i":31.1,"v":87.8},{"s":"Top","i":31.6,"v":85.1},{"s":"Top","i":115.4,"v":85.1},{"s":"Top","i":118.7,"v":65},{"s":"Top","i":129.2,"v":65},{"s":"Top","i":129.9,"v":87},{"s":"Top","i":190.4,"v":87},{"s":"Top","i":192.5,"v":75},{"s":"Top","i":194.5,"v":63.8},{"s":"Top","i":197.2,"v":63.8},{"s":"Top","i":198.5,"v":80.2},{"s":"Top","i":220.8,"v":80.2},{"s":"Top","i":223.4,"v":95.4},{"s":"Top","i":269.6,"v":95.4},{"s":"Top","i":270.5,"v":96.2},{"s":"Top","i":282,"v":96.2},
{"s":"Bottom","i":1.5,"v":21.1},{"s":"Bottom","i":3.4,"v":25},{"s":"Bottom","i":83.1,"v":25},{"s":"Bottom","i":87.7,"v":29.5},{"s":"Bottom","i":89,"v":29.5},{"s":"Bottom","i":89.7,"v":16.2},{"s":"Bottom","i":147,"v":16.2},{"s":"Bottom","i":147.5,"v":10.5},{"s":"Bottom","i":193.8,"v":10.5},{"s":"Bottom","i":194.5,"v":9},{"s":"Bottom","i":197.1,"v":9},{"s":"Bottom","i":197.6,"v":10.5},{"s":"Bottom","i":207.6,"v":10.5},{"s":"Bottom","i":209.6,"v":16.6},{"s":"Bottom","i":219.5,"v":18.1},{"s":"Bottom","i":245.9,"v":19.2},{"s":"Bottom","i":247.9,"v":26.9},{"s":"Bottom","i":267,"v":26.9},{"s":"Bottom","i":269,"v":31.4},{"s":"Bottom","i":282,"v":31.4}
]
},
"vconcat":[
{
 "width":714,"height":292,
 "layer":[
  {"data":{"name":"prof"},"mark":{"type":"rect","color":"#c0c0c0","clip":false},
   "encoding":{
    "x":{"field":"w","type":"quantitative","scale":{"domain":[61,775],"reverse":true,"zero":false,"nice":false},"axis":null},
    "x2":{"datum":0},
    "y":{"field":"lo","type":"quantitative","scale":{"domain":[0.395,1.926],"zero":false,"nice":false},
      "axis":{"orient":"right","title":null,"values":[0.4,0.6,0.8,1.0,1.2,1.4,1.6,1.8],"format":".1f","labelAlign":"right","labelPadding":52,"tickSize":4,"grid":false,"domain":true,"zindex":1}},
    "y2":{"field":"hi"}}},
  {"data":{"name":"px"},"mark":{"type":"bar","width":2,"color":"#f8a890"},
   "encoding":{
    "x":{"field":"i","type":"quantitative","scale":{"domain":[1.4,283.6],"zero":false,"nice":false},"axis":null},
    "y":{"field":"v","type":"quantitative","scale":{"domain":[0,100],"nice":false},"axis":null}}},
  {
   "encoding":{"x":{"field":"i","type":"quantitative","scale":{"domain":[1.4,283.6],"zero":false,"nice":false},
     "axis":{"orient":"bottom","title":null,"values":[1.5,22,43,64,87,106,128,148,167,189,210,230,251,273],
      "labelExpr":"['Jul','Aug','Sep','Oct','Nov','Dec','2026','Feb','Mar','Apr','May','Jun','Jul','Aug'][indexof([1.5,22,43,64,87,106,128,148,167,189,210,230,251,273],datum.value)]",
      "labelAlign":"left","labelBaseline":"top","labelPadding":-4,"labelOffset":2,"tickSize":7,"domain":false,
      "grid":true,"gridOpacity":{"condition":{"test":"datum.value==128","value":1},"value":0}}}},
   "layer":[
    {"data":{"name":"lines"},"transform":[{"filter":"datum.s=='Sup-2'"}],"mark":{"type":"line","strokeWidth":1,"clip":true},
     "encoding":{"y":{"field":"p","type":"quantitative","scale":{"domain":[0.395,1.926],"zero":false,"nice":false},
        "axis":{"orient":"left","title":null,"values":[0.4,0.6,0.8,1.0,1.2,1.4,1.6,1.8],"labels":false,"ticks":false,"domain":false,"grid":true}},
      "detail":{"field":"g"},
      "color":{"field":"s","type":"nominal",
        "scale":{"domain":["Vol","Res-1","v1","Res-2","v2","Sup-1","v3","Sup-2","v4"],"range":["#000000","#ff00ff","#000000","#ff0000","#000000","#0000ff","#000000","#008000","#000000"]},
        "legend":{"title":"GGRP - Daily 2026-08-14 Open 0.9\u00a0 High 0.9449\u00a0 Low 0.9\u00a0 Close 0.9041 (0.7%)","legendX":5,"legendY":0,"symbolSize":0,"symbolType":"circle",
          "labelExpr":"datum.value=='Vol'?'Vol 47,236':(datum.value=='v1'||datum.value=='v2')?'= 0.92,':datum.value=='v3'?'= 0.88,':datum.value=='v4'?'= 0.77':datum.value",
          "encode":{"labels":{"update":{"fill":{"signal":"datum.value=='Res-1'?'#ff00ff':datum.value=='Res-2'?'#ff0000':datum.value=='Sup-1'?'#0000ff':datum.value=='Sup-2'?'#008000':'#000000'"}}}}}}}},
    {"data":{"name":"lines"},"transform":[{"filter":"datum.s=='Sup-1'"}],"mark":{"type":"line","strokeWidth":1,"color":"#0000ff","clip":true},
     "encoding":{"y":{"field":"p","type":"quantitative","axis":null},"detail":{"field":"g"}}},
    {"data":{"name":"lines"},"transform":[{"filter":"datum.s=='Res-1'"}],"mark":{"type":"line","strokeWidth":1,"color":"#ff00ff","clip":true},
     "encoding":{"y":{"field":"p","type":"quantitative","axis":null},"detail":{"field":"g"}}},
    {"data":{"name":"lines"},"transform":[{"filter":"datum.s=='Res-2'"}],"mark":{"type":"line","strokeWidth":1,"color":"#ff0000","clip":true},
     "encoding":{"y":{"field":"p","type":"quantitative","axis":null},"detail":{"field":"g"}}},
    {"data":{"name":"px"},"mark":{"type":"rule","color":"black","strokeWidth":1,"clip":true},
     "encoding":{"y":{"field":"l","type":"quantitative","axis":null},"y2":{"field":"h"}}},
    {"data":{"name":"px"},"mark":{"type":"bar","width":3,"stroke":"black","strokeWidth":1,"clip":true},
     "encoding":{"y":{"field":"o","type":"quantitative","axis":null},"y2":{"field":"c"},
      "fill":{"condition":{"test":"datum.c>=datum.o","value":"white"},"value":"black"}}},
    {"data":{"name":"arT"},"transform":[{"filter":"datum.t=='up'"}],"mark":{"type":"point","shape":"M-0.25,1L0.25,1L0.25,-0.15L0.6,-0.15L0,-1L-0.6,-0.15L-0.25,-0.15Z","filled":true,"color":"#008000","size":240,"opacity":1,"clip":true},
     "encoding":{"y":{"field":"p","type":"quantitative","axis":null}}},
    {"data":{"name":"arT"},"transform":[{"filter":"datum.t=='dn'"}],"mark":{"type":"point","shape":"M-0.25,-1L0.25,-1L0.25,0.15L0.6,0.15L0,1L-0.6,0.15L-0.25,0.15Z","filled":true,"color":"#ff0000","size":240,"opacity":1,"clip":true},
     "encoding":{"y":{"field":"p","type":"quantitative","axis":null}}}
   ]
  }
 ],
 "resolve":{"scale":{"x":"independent","y":"independent"}}
},
{"width":714,"height":1,"data":{"values":[{"a":0}]},"mark":{"type":"point","opacity":0},"encoding":{},"view":{"stroke":null}},
{
 "width":714,"height":88,
 "encoding":{"x":{"field":"i","type":"quantitative","scale":{"domain":[1.4,283.6],"zero":false,"nice":false},"axis":null}},
 "layer":[
  {"data":{"name":"band"},"mark":{"type":"line","strokeWidth":1,"clip":true},
   "encoding":{"y":{"field":"v","type":"quantitative","scale":{"domain":[5.7,106.3],"zero":false,"nice":false},
      "axis":{"orient":"right","title":null,"values":[20,40,60,80,100],"labelAlign":"right","labelPadding":52,"tickSize":4,"grid":true,"domain":false}},
    "color":{"field":"s","type":"nominal",
      "scale":{"domain":["GGRP -","Line","k1","Top","Bottom","Signal","k2"],"range":["#000000","#ff0000","#000000","#000000","#000000","#0000ff","#000000"]},
      "legend":{"title":null,"legendX":5,"legendY":-4,"symbolSize":0,"symbolType":"circle",
        "labelExpr":"datum.value=='k1'?'= 54.97,':datum.value=='Top'?'Top = 94.95,':datum.value=='Bottom'?'Bottom = 31.01,':datum.value=='k2'?'= 56.91':datum.value",
        "encode":{"labels":{"update":{"fill":{"signal":"datum.value=='Line'?'#ff0000':datum.value=='Signal'?'#0000ff':'#000000'"}}}}}}}},
  {"data":{"name":"osc"},"transform":[{"filter":"datum.s=='Line'"}],"mark":{"type":"line","strokeWidth":1,"color":"#ff0000","clip":true},
   "encoding":{"y":{"field":"v","type":"quantitative","axis":null}}},
  {"data":{"name":"osc"},"transform":[{"filter":"datum.s=='Signal'"}],"mark":{"type":"line","strokeWidth":1,"color":"#0000ff","clip":true},
   "encoding":{"y":{"field":"v","type":"quantitative","axis":null}}}
 ]
},
{
 "width":714,"height":314,
 "encoding":{"x":{"field":"i","type":"quantitative","scale":{"domain":[1.4,283.6],"zero":false,"nice":false},
   "axis":{"orient":"bottom","title":null,"values":[1.5,22,43,64,87,106,128,148,167,189,210,230,251,273],
    "labelExpr":"['Jul','Aug','Sep','Oct','Nov','Dec','2026','Feb','Mar','Apr','May','Jun','Jul','Aug'][indexof([1.5,22,43,64,87,106,128,148,167,189,210,230,251,273],datum.value)]",
    "labelAlign":"left","labelBaseline":"top","labelPadding":-6,"labelOffset":2,"tickSize":7,"domain":false,
    "grid":true,"gridOpacity":{"condition":{"test":"datum.value==128","value":1},"value":0}}}},
 "layer":[
  {"data":{"name":"seg"},"mark":{"type":"rule","strokeWidth":4,"clip":true},
   "encoding":{"x2":{"field":"i2"},
    "y":{"field":"p","type":"quantitative","scale":{"domain":[0.392,1.926],"zero":false,"nice":false},
      "axis":{"orient":"right","title":null,"values":[0.4,0.6,0.8,1.0,1.2,1.4,1.6,1.8],"format":".1f","labelAlign":"right","labelPadding":52,"tickSize":4,"grid":true,"domain":false}},
    "color":{"field":"k","type":"nominal",
      "scale":{"domain":["Vol","Top","k1","Bottom","k2","Trend","k3"],"range":["#000000","#ff0000","#000000","#008000","#000000","#0000ff","#000000"]},
      "legend":{"title":"GGRP - Daily 2026-08-14 Open 0.9,Hi 0.9449,Lo 0.9, Close 0.9041 (0.7%)","legendX":5,"legendY":-4.5,"symbolSize":0,"symbolType":"circle",
        "labelExpr":"datum.value=='Vol'?'Vol 4,723,600':datum.value=='k1'?'= 1.00,':datum.value=='k2'?'= 0.64,':datum.value=='k3'?'= 0.91':datum.value",
        "encode":{"labels":{"update":{"fill":{"signal":"datum.value=='Top'?'#ff0000':datum.value=='Bottom'?'#008000':datum.value=='Trend'?'#0000ff':'#000000'"}}}}}}}},
  {"data":{"name":"px"},"mark":{"type":"rule","color":"black","strokeWidth":1,"clip":true},
   "encoding":{"y":{"field":"l","type":"quantitative","axis":null},"y2":{"field":"h"}}},
  {"data":{"name":"px"},"mark":{"type":"bar","width":3,"stroke":"black","strokeWidth":1,"clip":true},
   "encoding":{"y":{"field":"o","type":"quantitative","axis":null},"y2":{"field":"c"},
    "fill":{"condition":{"test":"datum.c>=datum.o","value":"white"},"value":"black"}}},
  {"data":{"name":"trend"},"mark":{"type":"line","strokeWidth":1,"color":"#0000ff","clip":true},
   "encoding":{"y":{"field":"p","type":"quantitative","axis":null}}},
  {"data":{"name":"arB"},"transform":[{"filter":"datum.t=='up'"}],"mark":{"type":"point","shape":"M-0.25,1L0.25,1L0.25,-0.15L0.6,-0.15L0,-1L-0.6,-0.15L-0.25,-0.15Z","filled":true,"color":"#008000","size":240,"opacity":1,"clip":true},
   "encoding":{"y":{"field":"p","type":"quantitative","axis":null}}},
  {"data":{"name":"arB"},"transform":[{"filter":"datum.t=='dn'"}],"mark":{"type":"point","shape":"M-0.25,-1L0.25,-1L0.25,0.15L0.6,0.15L0,1L-0.6,0.15L-0.25,0.15Z","filled":true,"color":"#ff0000","size":240,"opacity":1,"clip":true},
   "encoding":{"y":{"field":"p","type":"quantitative","axis":null}}}
 ]
}
],
"spacing":10,
"bounds":"flush",
"resolve":{"scale":{"color":"independent"},"legend":{"color":"independent"}}
}
